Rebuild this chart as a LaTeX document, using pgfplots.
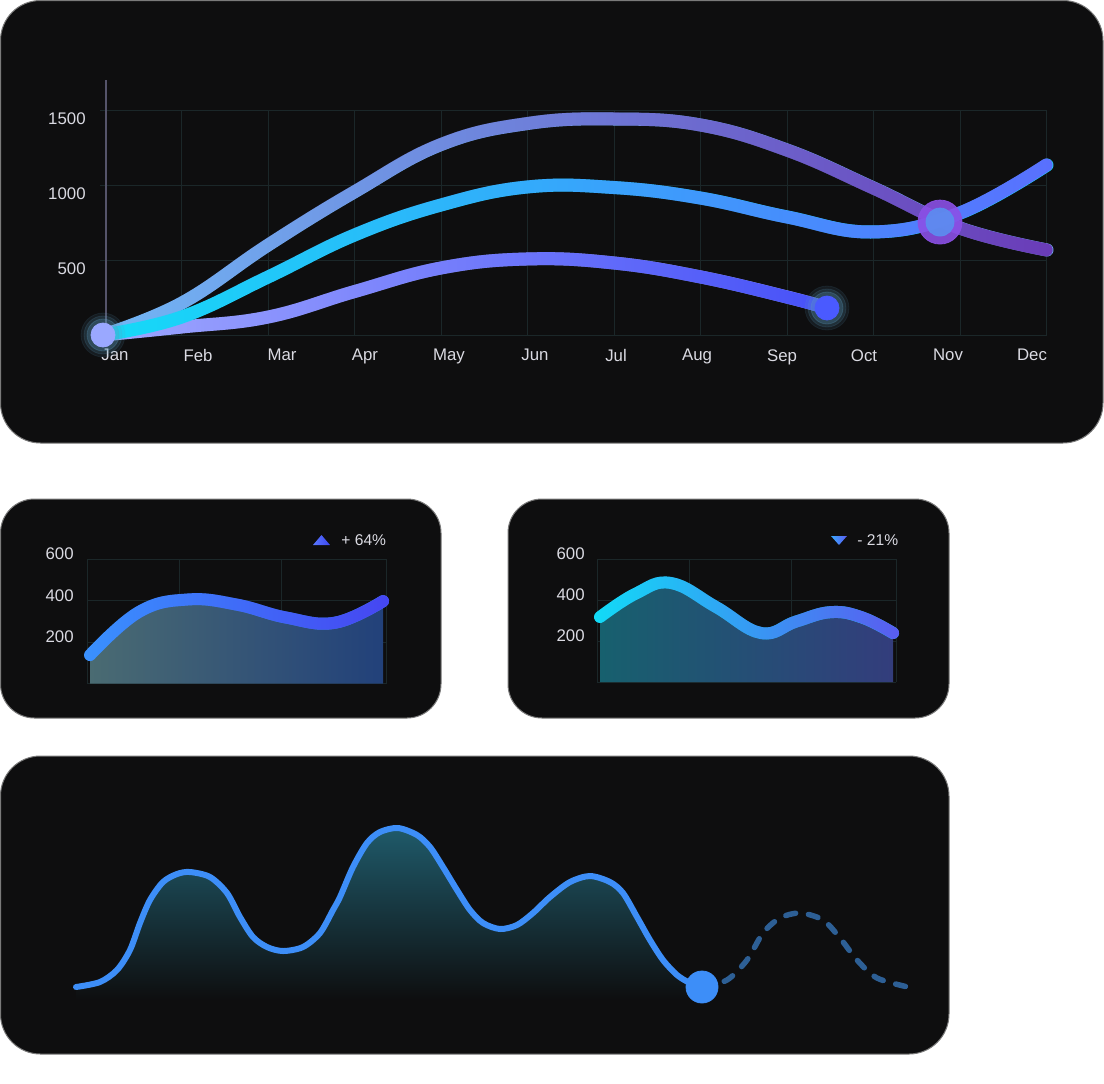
\documentclass[border=0pt]{standalone}
\usepackage{fontspec}
\setmainfont{Liberation Sans}
\usepackage{pgfplots}
\usepackage{pgfplotstable}
\pgfplotsset{compat=1.18}
\usetikzlibrary{fadings}

\definecolor{panel}{HTML}{0E0E0F}
\definecolor{pborder}{HTML}{7A7A7A}
\definecolor{gridc}{HTML}{1B2729}
\definecolor{tickc}{HTML}{DADAE2}
\definecolor{vaxis}{HTML}{55546A}
\definecolor{glow}{HTML}{5E9EC2}
\definecolor{dotJan}{HTML}{9AA8FF}
\definecolor{dotSep}{HTML}{4A5AFF}
\definecolor{dotNovO}{HTML}{8B50E6}
\definecolor{dotNovI}{HTML}{5B8EF0}
\definecolor{triAl}{HTML}{5A78FF}\definecolor{triAr}{HTML}{3C46F0}
\definecolor{triBl}{HTML}{3AA8FF}\definecolor{triBr}{HTML}{5A5CF0}
% main curves
\definecolor{tA}{HTML}{72B8F6}\definecolor{tB}{HTML}{6680DC}\definecolor{tC}{HTML}{6A3CB8}
\definecolor{mA}{HTML}{14DCF8}\definecolor{mB}{HTML}{3A9CFF}\definecolor{mC}{HTML}{5A70FF}
\definecolor{bA}{HTML}{A0A8FF}\definecolor{bB}{HTML}{6878F8}\definecolor{bC}{HTML}{4650F8}
% small charts
\definecolor{sA}{HTML}{3A92FF}\definecolor{sB}{HTML}{4270F8}\definecolor{sC}{HTML}{4646F2}
\definecolor{sfl}{HTML}{4A6B72}\definecolor{sfr}{HTML}{22417A}
\definecolor{rA}{HTML}{12DCF8}\definecolor{rB}{HTML}{3AA8FF}\definecolor{rC}{HTML}{5A5CF0}
\definecolor{rfl}{HTML}{17606E}\definecolor{rfr}{HTML}{333D7C}
% bottom chart
\definecolor{wl}{HTML}{3D8EF8}\definecolor{wd}{HTML}{2D5F95}
\definecolor{wtop}{HTML}{1F5A6A}\definecolor{wmid}{HTML}{1B3446}

\tikzfading[name=fadeR, left color=transparent!100, right color=transparent!0]
\tikzfading[name=fadeMid, left color=transparent!100, middle color=transparent!0, right color=transparent!100]

\pgfplotstableread{
x y
103 0
181.7 213
268.2 600
354.7 955
441.2 1270
527.7 1410
614.2 1440
700.7 1400
787.2 1233
873.7 980
960.2 713
1047 567
}\toptab
\pgfplotstableread{
x y
103 0
181.7 120
268.2 387
354.7 667
441.2 867
527.7 987
614.2 983
700.7 913
787.2 787
873.7 687
960.2 813
1047 1133
}\midtab
\pgfplotstableread{
x y
103 0
181.7 53
268.2 120
354.7 290
441.2 447
527.7 507
614.2 480
700.7 387
787.2 253
827 180
}\bottab
\pgfplotstableread{
x y
90 137
139 345
188 405
237 380
286 318
335 293
383 397
}\satab
\pgfplotstableread{
x y
600 317
636 432
671 483
716 366
761 239
796 295
831 341
862 315
893 239
}\sbtab
\pgfplotstableread{
x y
76 13
100 18
117 30
130 50
140 77
150 100
163 118
177 126
190 128
210 123
227 107
240 83
253 63
267 53
283 49
303 53
320 67
333 90
340 103
353 133
367 157
380 168
398 172
417 165
430 153
443 133
457 110
470 90
483 77
500 71
517 75
533 87
550 103
570 118
590 124
610 118
623 107
637 83
650 60
663 40
677 25
690 17
702 13
}\wavetab
\pgfplotstableread{
x y
702 13
727 20
747 40
763 67
780 82
800 87
823 80
840 62
857 40
877 22
908 13
}\dashtab

\pgfplotsset{
  panelaxis/.style={scale only axis, clip=false, anchor=south west,
    axis line style={draw=none}, tick style={draw=none},
    major tick length=0pt, minor tick length=0pt,
    major grid style={gridc, line width=0.5pt},
    minor grid style={gridc, line width=0.5pt},
    ticklabel style={font=\fontsize{8.4}{10}\selectfont, text=tickc},
    /pgf/number format/assume math mode=true},
  gline/.style={smooth, tension=0.7, line cap=round, line join=round, no markers},
  wline/.style={smooth, line cap=round, line join=round, no markers},
  dot/.style={only marks, mark=*, mark size=#1},
}

\begin{document}
\begin{tikzpicture}
\path[use as bounding box] (0,0) rectangle (552pt,-541.5pt);
% panels
\filldraw[fill=panel, draw=pborder, line width=0.5pt, rounded corners=20pt] (0.25pt,-0.25pt) rectangle (551.5pt,-221.5pt);
\filldraw[fill=panel, draw=pborder, line width=0.5pt, rounded corners=17pt] (0.25pt,-249.5pt) rectangle (220.5pt,-359pt);
\filldraw[fill=panel, draw=pborder, line width=0.5pt, rounded corners=17pt] (254pt,-249.5pt) rectangle (474.5pt,-359pt);
\filldraw[fill=panel, draw=pborder, line width=0.5pt, rounded corners=20pt] (0.25pt,-378pt) rectangle (474.5pt,-527pt);

% ---------- main chart
\begin{axis}[panelaxis, at={(50pt,-167.5pt)}, width=473.5pt, height=112.5pt,
  xmin=100, xmax=1047, ymin=0, ymax=1500,
  xtick={115,198,282,365,449,535,616,697,782,864,948,1032},
  xticklabels={Jan,Feb,Mar,Apr,May,Jun,Jul,Aug,Sep,Oct,Nov,Dec},
  minor xtick={181.7,268.2,354.7,441.2,527.7,614.2,700.7,787.2,873.7,960.2,1046.7},
  xminorgrids=true, xmajorgrids=false, ymajorgrids=true,
  ytick={0,500,1000,1500}, yticklabels={,500,1000,1500},
  yticklabel style={anchor=east, inner sep=0pt, xshift=-7pt, yshift=-4.5pt},
  xticklabel style={anchor=north, inner sep=0pt, yshift=-7pt},
]
\addplot[color=vaxis, line width=0.75pt, no markers] coordinates {(106,0) (106,1700)};
% bottom curve
\addplot[gline, line width=6.5pt, bA] table {\bottab};
\addplot[gline, line width=6.5pt, bC, path fading=fadeR] table {\bottab};
\addplot[gline, line width=6.5pt, bB, path fading=fadeMid] table {\bottab};
% top curve
\addplot[gline, line width=6.5pt, tA] table {\toptab};
\addplot[gline, line width=6.5pt, tC, path fading=fadeR] table {\toptab};
\addplot[gline, line width=6.5pt, tB, path fading=fadeMid] table {\toptab};
% middle curve
\addplot[gline, line width=6.5pt, mA] table {\midtab};
\addplot[gline, line width=6.5pt, mC, path fading=fadeR] table {\midtab};
\addplot[gline, line width=6.5pt, mB, path fading=fadeMid] table {\midtab};
% dots with glow
\addplot[dot=11pt, glow, opacity=0.10] coordinates {(103,0) (827,180)};
\addplot[dot=9.5pt, glow, opacity=0.15] coordinates {(103,0) (827,180)};
\addplot[dot=8pt, glow, opacity=0.25] coordinates {(103,0) (827,180)};
\addplot[dot=6pt, dotJan] coordinates {(103,0)};
\addplot[dot=6pt, dotSep] coordinates {(827,180)};
\addplot[dot=11pt, dotNovO, opacity=0.9] coordinates {(940,753)};
\addplot[dot=7pt, dotNovI, opacity=0.9] coordinates {(940,753)};
\end{axis}

% ---------- small chart 1
\begin{axis}[panelaxis, at={(43.5pt,-341.75pt)}, width=149.5pt, height=62.25pt,
  xmin=87, xmax=386, ymin=0, ymax=600,
  xtick={87,179,281,386}, xticklabels={},
  ytick={0,200,400,600}, yticklabels={,200,400,600},
  grid=major,
  yticklabel style={anchor=east, inner sep=0pt, xshift=-6.5pt, yshift=2.5pt},
]
\addplot[smooth, tension=0.7, draw=none, left color=sfl, right color=sfr] table {\satab} \closedcycle;
\addplot[gline, line width=6pt, sA] table {\satab};
\addplot[gline, line width=6pt, sC, path fading=fadeR] table {\satab};
\addplot[gline, line width=6pt, sB, path fading=fadeMid] table {\satab};
\end{axis}
\fill[left color=triAl, right color=triAr] (156.5pt,-272.5pt) -- (165pt,-272.5pt) -- (160.75pt,-267.5pt) -- cycle;
\node[anchor=west, inner sep=0pt, text=tickc, font=\fontsize{7.8}{9}\selectfont] at (170.5pt,-270pt) {+ 64\%};

% ---------- small chart 2
\begin{axis}[panelaxis, at={(298.5pt,-341pt)}, width=149.5pt, height=61.5pt,
  xmin=597, xmax=896, ymin=0, ymax=600,
  xtick={597,689,791,896}, xticklabels={},
  ytick={0,200,400,600}, yticklabels={,200,400,600},
  grid=major,
  yticklabel style={anchor=east, inner sep=0pt, xshift=-6pt, yshift=2.5pt},
]
\addplot[smooth, tension=0.7, draw=none, left color=rfl, right color=rfr] table {\sbtab} \closedcycle;
\addplot[gline, line width=6pt, rA] table {\sbtab};
\addplot[gline, line width=6pt, rC, path fading=fadeR] table {\sbtab};
\addplot[gline, line width=6pt, rB, path fading=fadeMid] table {\sbtab};
\end{axis}
\fill[left color=triBl, right color=triBr] (415.5pt,-268pt) -- (423.5pt,-268pt) -- (419.5pt,-272.5pt) -- cycle;
\node[anchor=west, inner sep=0pt, text=tickc, font=\fontsize{7.8}{9}\selectfont] at (428.5pt,-270pt) {- 21\%};

% ---------- bottom chart
\begin{axis}[panelaxis, hide axis, at={(30pt,-500pt)}, width=435pt, height=100pt,
  xmin=60, xmax=930, ymin=0, ymax=200]
\addplot[smooth, draw=none, top color=wtop, middle color=wmid, bottom color=panel] table {\wavetab} \closedcycle;
\addplot[wline, line width=3pt, wl] table {\wavetab};
\addplot[wline, line width=2.75pt, wd, dash pattern=on 5pt off 6.5pt] table {\dashtab};
\addplot[dot=8pt, wl] coordinates {(702,13)};
\end{axis}
\end{tikzpicture}
\end{document}
